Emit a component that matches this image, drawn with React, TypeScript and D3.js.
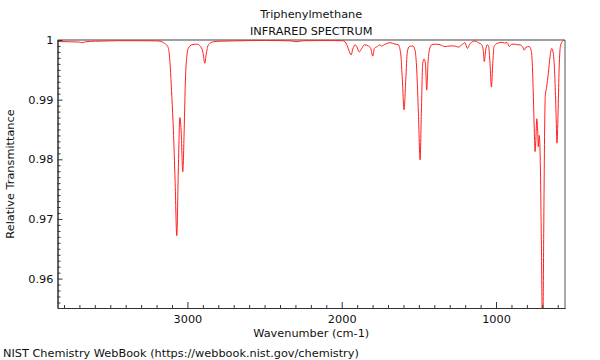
import React, { useEffect, useRef } from 'react';
import * as d3 from 'd3';

// spectrum (wavenumber in cm-1, relative transmittance)
const wavenumbers = [
  3842, 3760, 3700, 3684, 3660, 3598, 3500, 3455, 3306, 3196, 3177, 3155, 3141, 3127, 3117, 3101, 3091, 3080,
  3069, 3058, 3049, 3041, 3030, 3021, 3013, 3004, 2994, 2971, 2939, 2918, 2900, 2887, 2879, 2864, 2832, 2788,
  2700, 2600, 2500, 2400, 2330, 2296, 2250, 2150, 2060, 1991, 1967, 1950, 1939, 1928, 1913, 1903, 1886, 1870,
  1853, 1827, 1812, 1799, 1788, 1770, 1752, 1741, 1719, 1687, 1654, 1633, 1617, 1607, 1596, 1585, 1575, 1562,
  1540, 1525, 1514, 1503, 1492, 1484, 1475, 1466, 1458, 1449, 1441, 1432, 1417, 1396, 1363, 1331, 1298, 1270,
  1244, 1222, 1201, 1186, 1168, 1136, 1115, 1093, 1083, 1076, 1067, 1057, 1048, 1039, 1030, 1021, 1013, 995,
  963, 945, 927, 914, 898, 880, 862, 844, 827, 817, 806, 784, 773, 765, 758, 752, 747, 741, 736, 730, 726, 720,
  713, 707, 698, 689, 685, 681, 672, 661, 650, 639, 629, 618, 611, 605, 598, 592, 583, 568, 553
];
const transmittance = [
  0.99975, 0.9997, 0.99965, 0.99955, 0.9997, 0.9998, 0.99985, 0.99988, 0.99988, 0.99985, 0.9998, 0.99955,
  0.9993, 0.9989, 0.9975, 0.9905, 0.9849, 0.9765, 0.9672, 0.9794, 0.987, 0.9849, 0.9779, 0.9849, 0.9933,
  0.9972, 0.9986, 0.9992, 0.9993, 0.999, 0.998, 0.9961, 0.9975, 0.9992, 0.9997, 0.9998, 0.99985, 0.9999,
  0.99992, 0.9999, 0.99985, 0.9997, 0.99988, 0.9999, 0.9999, 0.99988, 0.9992, 0.998, 0.9975, 0.9985, 0.9992,
  0.9989, 0.998, 0.9986, 0.9992, 0.999, 0.9986, 0.9973, 0.9986, 0.9989, 0.9992, 0.999, 0.9993, 0.99955,
  0.9993, 0.9992, 0.9975, 0.9933, 0.9883, 0.9933, 0.998, 0.9989, 0.999, 0.9983, 0.995, 0.9877, 0.9799,
  0.9877, 0.9961, 0.9968, 0.9961, 0.9916, 0.9961, 0.9983, 0.9992, 0.9993, 0.9992, 0.9989, 0.999, 0.999,
  0.9988, 0.9992, 0.99955, 0.9986, 0.9994, 0.99983, 0.99955, 0.9992, 0.9983, 0.9964, 0.9983, 0.9992, 0.9989,
  0.9961, 0.9921, 0.9961, 0.9989, 0.9994, 0.99961, 0.9995, 0.99955, 0.9989, 0.9993, 0.9993, 0.9992, 0.9992,
  0.9988, 0.9983, 0.9988, 0.9989, 0.9983, 0.9961, 0.9905, 0.9849, 0.9813, 0.9838, 0.9868, 0.9849, 0.9821,
  0.984, 0.9793, 0.9681, 0.95, 0.9737, 0.9849, 0.9905, 0.9921, 0.9944, 0.9972, 0.9986, 0.9978, 0.9933,
  0.9877, 0.9827, 0.9877, 0.9944, 0.9989, 0.99983, 1.0
];

const xMajorTicks = [3000, 2000, 1000];
const xMinorTicks = d3.range(600, 3900, 100).filter((v) => v % 1000 !== 0);
const yMajorTicks = [0.96, 0.97, 0.98, 0.99, 1];
const yMinorTicks = d3.range(956, 1000, 1).map((v) => v / 1000).filter((v) => Math.round(v * 1000) % 10 !== 0);

const title = 'Triphenylmethane';
const subtitle = 'INFRARED SPECTRUM';
const xLabel = 'Wavenumber (cm-1)';
const yLabel = 'Relative Transmittance';
const footer = 'NIST Chemistry WebBook (https://webbook.nist.gov/chemistry)';

const W = 600;
const H = 360;
const left = 57.5;
const right = 565;
const top = 40;
const bottom = 308;
const font = '"DejaVu Sans", sans-serif';
const fontSize = 11.3;

const App = () => {
  const rootRef = useRef<SVGSVGElement>(null);

  useEffect(() => {
    const svg = d3.select(rootRef.current).attr('width', W).attr('height', H);
    svg.selectAll('*').remove();

    const x = d3.scaleLinear().domain([3842, 553]).range([left, right]);
    const y = d3.scaleLinear().domain([0.95507, 1]).range([bottom, top]);

    svg.append('rect').attr('width', W).attr('height', H).attr('fill', 'white');

    svg
      .append('defs')
      .append('clipPath')
      .attr('id', 'plot-clip')
      .append('rect')
      .attr('x', left)
      .attr('y', top)
      .attr('width', right - left)
      .attr('height', bottom - top);

    // frame: gray top, dark right
    svg
      .append('line')
      .attr('x1', left)
      .attr('x2', right)
      .attr('y1', top)
      .attr('y2', top)
      .attr('stroke', '#a0a0a0')
      .attr('stroke-width', 2);
    svg
      .append('line')
      .attr('x1', right)
      .attr('x2', right)
      .attr('y1', top)
      .attr('y2', bottom)
      .attr('stroke', '#555')
      .attr('stroke-width', 1);

    const pts = wavenumbers.map((w, i) => [w, transmittance[i]] as [number, number]);
    const line = d3
      .line<[number, number]>()
      .x((d) => x(d[0]))
      .y((d) => y(d[1]))
      .curve(d3.curveMonotoneX);

    svg
      .append('path')
      .datum(pts)
      .attr('clip-path', 'url(#plot-clip)')
      .attr('fill', 'none')
      .attr('stroke', '#ff2020')
      .attr('stroke-width', 1)
      .attr('d', line);

    const styleAxis = (g: d3.Selection<SVGGElement, unknown, null, undefined>) => {
      g.selectAll('path.domain').attr('stroke', '#333');
      g.selectAll('.tick line').attr('stroke', '#333');
      g.selectAll('.tick text').attr('fill', '#111').attr('font-family', font).attr('font-size', fontSize);
    };

    // bottom axis
    const gxMinor = svg.append('g').attr('transform', `translate(0,${bottom})`);
    gxMinor.call(d3.axisBottom(x).tickValues(xMinorTicks).tickSize(-3).tickSizeOuter(0).tickFormat(() => ''));
    styleAxis(gxMinor);
    const gx = svg.append('g').attr('transform', `translate(0,${bottom})`);
    gx.call(
      d3
        .axisBottom(x)
        .tickValues(xMajorTicks)
        .tickSize(-6)
        .tickSizeOuter(0)
        .tickPadding(7)
        .tickFormat((d) => String(d))
    );
    styleAxis(gx);

    // left axis
    const gyMinor = svg.append('g').attr('transform', `translate(${left},0)`);
    gyMinor.call(d3.axisLeft(y).tickValues(yMinorTicks).tickSize(-3).tickSizeOuter(0).tickFormat(() => ''));
    styleAxis(gyMinor);
    const gy = svg.append('g').attr('transform', `translate(${left},0)`);
    gy.call(
      d3
        .axisLeft(y)
        .tickValues(yMajorTicks)
        .tickSize(-5)
        .tickSizeOuter(0)
        .tickPadding(4)
        .tickFormat((d) => (+d === 1 ? '1' : (+d).toFixed(2)))
    );
    styleAxis(gy);

    const addText = (t: string, tx: number, ty: number, anchor = 'middle') =>
      svg
        .append('text')
        .attr('x', tx)
        .attr('y', ty)
        .attr('text-anchor', anchor)
        .attr('font-family', font)
        .attr('font-size', fontSize)
        .attr('fill', '#111')
        .text(t);

    const cx = (left + right) / 2;
    addText(title, cx, 17.5);
    addText(subtitle, cx, 34.5);
    addText(xLabel, cx, 336.5);
    addText(footer, 3, 357, 'start');
    addText(yLabel, 0, 0).attr('transform', `translate(14,${(top + bottom) / 2}) rotate(-90)`);
  }, []);

  return (
    <div style={{ position: 'absolute', left: 0, top: 0 }}>
      <svg ref={rootRef} style={{ display: 'block' }}></svg>
    </div>
  );
};

export default App;
